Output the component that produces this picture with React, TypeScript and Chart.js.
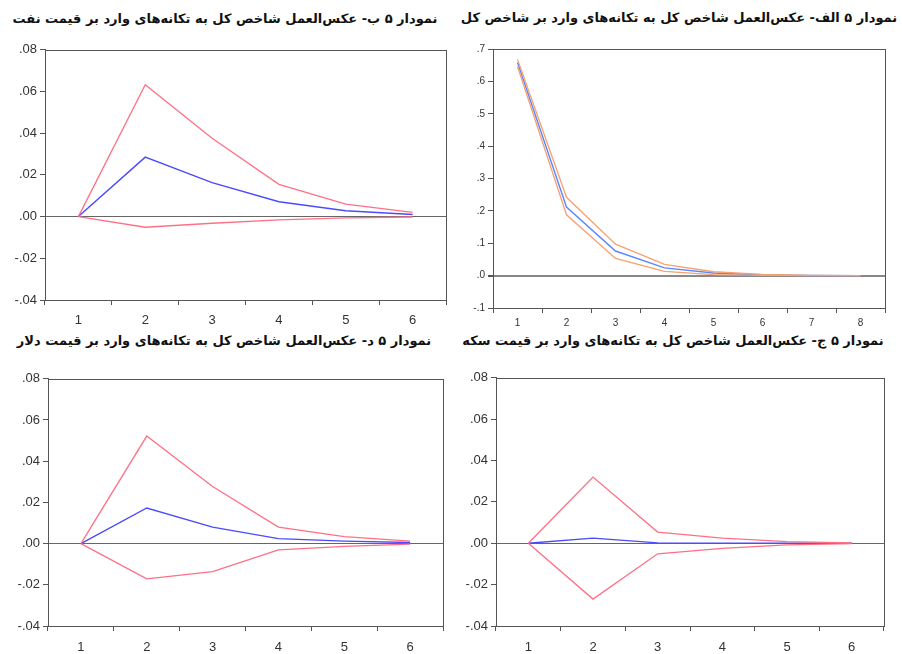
import React, { useEffect, useRef } from "react";
import { Chart, registerables } from "chart.js";

Chart.register(...registerables);

// ---- data ----
const periods6 = ["1", "2", "3", "4", "5", "6"];
const periods8 = ["1", "2", "3", "4", "5", "6", "7", "8"];

const yLabelsSmall = ["-.04", "-.02", ".00", ".02", ".04", ".06", ".08"];
const yLabelsBig = ["-.1", ".0", ".1", ".2", ".3", ".4", ".5", ".6", ".7"];

// Panel الف: total index -> total index
const respA = [0.658, 0.212, 0.076, 0.024, 0.008, 0.002, 0.0005, 0];
const upperA = [0.668, 0.242, 0.097, 0.035, 0.012, 0.004, 0.001, 0.0002];
const lowerA = [0.646, 0.188, 0.053, 0.013, 0.003, 0.0005, 0, -0.0002];

// Panel ب: oil price -> total index
const respB = [0, 0.0285, 0.0163, 0.0071, 0.0028, 0.001];
const upperB = [0, 0.0632, 0.0376, 0.0155, 0.006, 0.002];
const lowerB = [0, -0.0051, -0.0032, -0.0016, -0.0006, -0.0002];

// Panel ج: coin price -> total index
const respC = [0, 0.0025, 0.0002, 0, 0, 0];
const upperC = [0, 0.032, 0.0054, 0.0025, 0.0008, 0.0002];
const lowerC = [0, -0.027, -0.0051, -0.0025, -0.0008, -0.0002];

// Panel د: dollar price -> total index
const respD = [0, 0.0173, 0.008, 0.0024, 0.0012, 0.0005];
const upperD = [0, 0.0522, 0.0277, 0.008, 0.0034, 0.0012];
const lowerD = [0, -0.0171, -0.0136, -0.003, -0.0013, -0.0003];

const titleA = "نمودار ۵ الف- عکس‌العمل شاخص کل به تکانه‌های وارد بر شاخص کل";
const titleB = "نمودار ۵ ب- عکس‌العمل شاخص کل به تکانه‌های وارد بر قیمت نفت";
const titleC = "نمودار ۵ ج- عکس‌العمل شاخص کل به تکانه‌های وارد بر قیمت سکه";
const titleD = "نمودار ۵ د- عکس‌العمل شاخص کل به تکانه‌های وارد بر قیمت دلار";

const Y_W = 45;
const X_H = 30;
const PAD_T = 8;
const PAD_R = 8;

const framePlugin = {
  id: "frame",
  afterDraw(chart: any) {
    const { ctx, chartArea } = chart;
    ctx.save();
    ctx.strokeStyle = "#555";
    ctx.lineWidth = 1;
    ctx.strokeRect(
      Math.round(chartArea.left) + 0.5,
      Math.round(chartArea.top) + 0.5,
      Math.round(chartArea.right - chartArea.left),
      Math.round(chartArea.bottom - chartArea.top)
    );
    ctx.restore();
  },
};

type PanelProps = {
  labels: string[];
  resp: number[];
  upper: number[];
  lower: number[];
  yMin: number;
  yMax: number;
  step: number;
  yTickLabels: string[];
  area: { l: number; t: number; r: number; b: number };
  fontSize: number;
  bandColor: string;
  lineColor: string;
  zeroColor: string;
  zeroWidth: number;
  xPad: number;
};

function Panel(p: PanelProps) {
  const ref = useRef<HTMLCanvasElement>(null);
  const w = p.area.r - p.area.l + Y_W + PAD_R;
  const h = p.area.b - p.area.t + PAD_T + X_H;
  useEffect(() => {
    const chart = new Chart(ref.current as HTMLCanvasElement, {
      type: "line",
      data: {
        labels: p.labels,
        datasets: [
          { data: p.upper, borderColor: p.bandColor, borderWidth: 1.3 },
          { data: p.lower, borderColor: p.bandColor, borderWidth: 1.3 },
          { data: p.resp, borderColor: p.lineColor, borderWidth: 1.4 },
        ].map((d) => ({ ...d, pointRadius: 0, tension: 0, fill: false })),
      },
      options: {
        animation: false,
        responsive: false,
        layout: { padding: { top: PAD_T, right: PAD_R, left: 0, bottom: 0 } },
        plugins: { legend: { display: false }, tooltip: { enabled: false } },
        scales: {
          x: {
            type: "category",
            offset: true,
            afterFit: (s: any) => {
              s.height = X_H;
            },
            grid: {
              offset: true,
              color: "transparent",
              tickColor: "#555",
              tickLength: 5,
              drawOnChartArea: false,
            },
            border: { display: true, color: "#555" },
            ticks: {
              color: "#333",
              padding: p.xPad,
              maxRotation: 0,
              font: { family: "Liberation Sans", size: p.fontSize },
            },
          },
          y: {
            min: p.yMin,
            max: p.yMax,
            afterFit: (s: any) => {
              s.width = Y_W;
            },
            ticks: {
              stepSize: p.step,
              color: "#333",
              padding: 3,
              font: { family: "Liberation Sans", size: p.fontSize },
              callback: (_v: any, i: number) => p.yTickLabels[i],
            },
            grid: {
              color: (c: any) =>
                Math.abs(c.tick?.value ?? 1) < 1e-9 ? p.zeroColor : "transparent",
              lineWidth: (c: any) =>
                Math.abs(c.tick?.value ?? 1) < 1e-9 ? p.zeroWidth : 1,
              tickColor: "#555",
              tickLength: 5,
            },
            border: { display: true, color: "#555" },
          },
        },
      },
      plugins: [framePlugin],
    } as any);
    return () => chart.destroy();
  }, []);
  return (
    <canvas
      ref={ref}
      width={w}
      height={h}
      style={{
        position: "absolute",
        left: p.area.l - Y_W,
        top: p.area.t - PAD_T,
        width: w,
        height: h,
      }}
    />
  );
}

function Title({ text, cx, cy }: { text: string; cx: number; cy: number }) {
  return (
    <div
      dir="rtl"
      style={{
        position: "absolute",
        left: cx,
        top: cy,
        transform: "translate(-50%, -50%)",
        whiteSpace: "nowrap",
        fontFamily: "DejaVu Sans",
        fontWeight: "bold",
        fontSize: 13,
        color: "#111",
      }}
    >
      {text}
    </div>
  );
}

export default function App() {
  return (
    <div
      style={{
        position: "absolute",
        left: 0,
        top: 0,
        width: 902,
        height: 654,
        background: "#fff",
        overflow: "hidden",
      }}
    >
      <Title text={titleB} cx={225} cy={18} />
      <Title text={titleA} cx={679} cy={17} />
      <Title text={titleD} cx={224} cy={340} />
      <Title text={titleC} cx={673} cy={340} />
      <Panel
        labels={periods6}
        resp={respB}
        upper={upperB}
        lower={lowerB}
        yMin={-0.04}
        yMax={0.08}
        step={0.02}
        yTickLabels={yLabelsSmall}
        area={{ l: 45, t: 47, r: 446, b: 300 }}
        fontSize={13}
        bandColor="#ff6f85"
        lineColor="#4a4aff"
        zeroColor="#666"
        zeroWidth={1}
        xPad={8}
      />
      <Panel
        labels={periods8}
        resp={respA}
        upper={upperA}
        lower={lowerA}
        yMin={-0.1}
        yMax={0.7}
        step={0.1}
        yTickLabels={yLabelsBig}
        area={{ l: 493, t: 48, r: 885, b: 308 }}
        fontSize={10}
        bandColor="#f7a070"
        lineColor="#5b88ff"
        zeroColor="#888"
        zeroWidth={2}
        xPad={4}
      />
      <Panel
        labels={periods6}
        resp={respD}
        upper={upperD}
        lower={lowerD}
        yMin={-0.04}
        yMax={0.08}
        step={0.02}
        yTickLabels={yLabelsSmall}
        area={{ l: 48, t: 376, r: 443, b: 626 }}
        fontSize={13}
        bandColor="#ff6f85"
        lineColor="#4a4aff"
        zeroColor="#666"
        zeroWidth={1}
        xPad={9}
      />
      <Panel
        labels={periods6}
        resp={respC}
        upper={upperC}
        lower={lowerC}
        yMin={-0.04}
        yMax={0.08}
        step={0.02}
        yTickLabels={yLabelsSmall}
        area={{ l: 496, t: 375, r: 884, b: 626 }}
        fontSize={13}
        bandColor="#ff6f85"
        lineColor="#4a4aff"
        zeroColor="#666"
        zeroWidth={1}
        xPad={9}
      />
    </div>
  );
}
